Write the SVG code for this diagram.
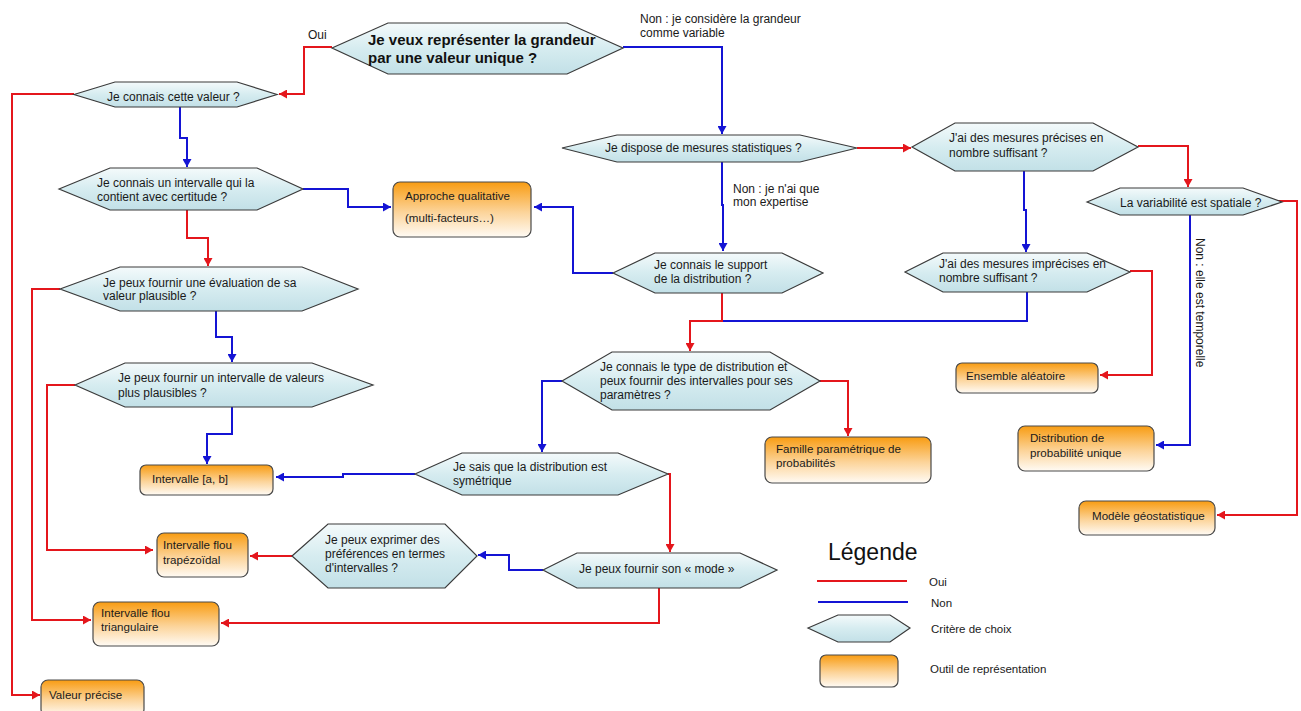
<svg xmlns="http://www.w3.org/2000/svg" width="1301" height="711" viewBox="0 0 1301 711">
<defs>
<linearGradient id="gHex" x1="0" y1="0" x2="0" y2="1">
<stop offset="0" stop-color="#f4fafb"/>
<stop offset="0.5" stop-color="#d6ecf0"/>
<stop offset="1" stop-color="#c2e0e7"/>
</linearGradient>
<linearGradient id="gBox" x1="0" y1="0" x2="0" y2="1">
<stop offset="0" stop-color="#f89c12"/>
<stop offset="0.55" stop-color="#fcd49a"/>
<stop offset="1" stop-color="#fffbf5"/>
</linearGradient>
<marker id="aR" markerWidth="9" markerHeight="9" refX="8" refY="4.5" orient="auto" markerUnits="userSpaceOnUse"><path d="M0,0 L8,4.5 L0,9 z" fill="#e4161c"/></marker>
<marker id="aB" markerWidth="9" markerHeight="9" refX="8" refY="4.5" orient="auto" markerUnits="userSpaceOnUse"><path d="M0,0 L8,4.5 L0,9 z" fill="#1414d4"/></marker>
<style>
.hex{fill:url(#gHex);stroke:#3a3a3a;stroke-width:1.2}
.box{fill:url(#gBox);stroke:#4a4a4a;stroke-width:1.2}
.t{font-family:"Liberation Sans",Arial,sans-serif;font-size:12px;fill:#1a1a1a}
.tb{font-family:"Liberation Sans",Arial,sans-serif;font-size:11.6px;fill:#1a1a1a}
.tl{font-family:"Liberation Sans",Arial,sans-serif;font-size:11.5px;fill:#1a1a1a}
.title{font-family:"Liberation Sans",Arial,sans-serif;font-size:15px;font-weight:bold;fill:#111}
.r{fill:none;stroke:#e4161c;stroke-width:2;marker-end:url(#aR)}
.b{fill:none;stroke:#1414d4;stroke-width:2;marker-end:url(#aB)}
.bn{fill:none;stroke:#1414d4;stroke-width:2}
</style>
</defs>
<rect width="1301" height="711" fill="#ffffff"/>

<g id="connectors">
<polyline class="bn" points="1027,292 1027,321 692,321"/>
<polyline class="r" points="332,47 304,47 304,94 279,94"/>
<polyline class="r" points="74,94 12,94 12,695 40,695"/>
<polyline class="r" points="187,210 187,238 208,238 208,266"/>
<polyline class="r" points="60,289 32,289 32,620 91,620"/>
<polyline class="r" points="75,385 47,385 47,550 153,550"/>
<polyline class="r" points="722,293 722,321 690,321 690,351"/>
<polyline class="r" points="820,381 848,381 848,436"/>
<polyline class="r" points="668,474 670,474 670,552"/>
<polyline class="r" points="659,588 659,623 221,623"/>
<polyline class="r" points="292,556 250,556"/>
<polyline class="r" points="857,148 911,148"/>
<polyline class="r" points="1138,146 1188,146 1188,187"/>
<polyline class="r" points="1272,201 1297,201 1297,515 1217,515"/>
<polyline class="r" points="1130,271 1152,271 1152,375 1100,375"/>
<polyline class="b" points="623,47 722,47 722,134"/>
<polyline class="b" points="180,107 180,138 187,138 187,167"/>
<polyline class="b" points="303,189 348,189 348,207 391,207"/>
<polyline class="b" points="216,311 216,337 232,337 232,362"/>
<polyline class="b" points="232,407 232,434 207,434 207,464"/>
<polyline class="b" points="722,162 722,205 723,205 723,251"/>
<polyline class="b" points="613,273 573,273 573,207 534,207"/>
<polyline class="b" points="562,381 542,381 542,452"/>
<polyline class="b" points="415,474 343,474 343,477 276,477"/>
<polyline class="b" points="543,570 509,570 509,555 478,555"/>
<polyline class="b" points="1024,171 1024,210 1026,210 1026,252"/>
<polyline class="b" points="1190,215 1190,445 1156,445"/>
<text class="t" x="308" y="39">Oui</text>
<text class="t" x="640" y="23">Non : je considère la grandeur</text>
<text class="t" x="640" y="37">comme variable</text>
<text class="t" x="733" y="193">Non : je n'ai que</text>
<text class="t" x="733" y="206">mon expertise</text>
<text class="t" transform="translate(1196,238) rotate(90)">Non : elle est temporelle</text>
</g>

<g id="n-valeur-unique">
<polygon class="hex" points="332,48 388,23 567,23 623,48 567,74 388,74"/>
<text class="title" x="368" y="45">Je veux représenter la grandeur</text>
<text class="title" x="368" y="63">par une valeur unique ?</text>
</g>
<g id="n-connais-valeur">
<polygon class="hex" points="74,94.5 115,82 237,82 277,94.5 237,107 115,107"/>
<text class="t" x="107" y="101">Je connais cette valeur ?</text>
</g>
<g id="n-intervalle-certitude">
<polygon class="hex" points="59,189 110,168 257,168 303,189 257,210 110,210"/>
<text class="t" x="97" y="187">Je connais un intervalle qui la</text>
<text class="t" x="97" y="201">contient avec certitude ?</text>
</g>
<g id="n-evaluation">
<polygon class="hex" points="60,289 120,267 302,267 358,289 302,311 120,311"/>
<text class="t" x="103" y="287">Je peux fournir une évaluation de sa</text>
<text class="t" x="103" y="300">valeur plausible ?</text>
</g>
<g id="n-intervalle-plausible">
<polygon class="hex" points="75,385 125,363 312,363 373,385 312,407 125,407"/>
<text class="t" x="118" y="382">Je peux fournir un intervalle de valeurs</text>
<text class="t" x="118" y="397">plus plausibles ?</text>
</g>
<g id="n-mesures-stat">
<polygon class="hex" points="562,148 617,135 800,135 857,148 800,162 617,162"/>
<text class="t" x="605" y="152">Je dispose de mesures statistiques ?</text>
</g>
<g id="n-support">
<polygon class="hex" points="613,273 655,253 782,253 823,273 782,293 655,293"/>
<text class="t" x="654" y="269">Je connais le support</text>
<text class="t" x="654" y="283">de la distribution ?</text>
</g>
<g id="n-type-distribution">
<polygon class="hex" points="562,381 612,352 770,352 820,381 770,410 612,410"/>
<text class="t" x="600" y="371">Je connais le type de distribution et</text>
<text class="t" x="600" y="385">peux fournir des intervalles pour ses</text>
<text class="t" x="600" y="399">paramètres ?</text>
</g>
<g id="n-symetrique">
<polygon class="hex" points="415,474 462,453 618,453 668,474 618,495 462,495"/>
<text class="t" x="453" y="471">Je sais que la distribution est</text>
<text class="t" x="453" y="485">symétrique</text>
</g>
<g id="n-mode">
<polygon class="hex" points="543,570 577,553 740,553 777,570 740,588 577,588"/>
<text class="t" x="579" y="573">Je peux fournir son « mode »</text>
</g>
<g id="n-preferences">
<polygon class="hex" points="292,556 328,524 445,524 477,556 445,588 328,588"/>
<text class="t" x="325" y="544">Je peux exprimer des</text>
<text class="t" x="325" y="558">préférences en termes</text>
<text class="t" x="325" y="572">d'intervalles ?</text>
</g>
<g id="n-mesures-precises">
<polygon class="hex" points="912,147 955,123 1093,123 1138,147 1093,171 955,171"/>
<text class="t" x="949" y="142">J'ai des mesures précises en</text>
<text class="t" x="949" y="157">nombre suffisant ?</text>
</g>
<g id="n-spatiale">
<polygon class="hex" points="1087,202 1120,188 1243,188 1282,202 1243,215 1120,215"/>
<text class="t" x="1120" y="207">La variabilité est spatiale ?</text>
</g>
<g id="n-mesures-imprecises">
<polygon class="hex" points="905,272 943,253 1087,253 1130,272 1087,292 943,292"/>
<text class="t" x="939" y="268">J'ai des mesures imprécises en</text>
<text class="t" x="939" y="282">nombre suffisant ?</text>
</g>

<g id="o-approche">
<rect class="box" x="393" y="182" width="138" height="55" rx="7"/>
<text class="tb" x="405" y="200">Approche qualitative</text>
<text class="tb" x="405" y="222">(multi-facteurs…)</text>
</g>
<g id="o-intervalle-ab">
<rect class="box" x="140" y="465" width="133" height="30" rx="6"/>
<text class="tb" x="152" y="483">Intervalle [a, b]</text>
</g>
<g id="o-trapezoidal">
<rect class="box" x="157" y="533" width="91" height="44" rx="7"/>
<text class="tb" x="163" y="549">Intervalle flou</text>
<text class="tb" x="163" y="564">trapézoïdal</text>
</g>
<g id="o-triangulaire">
<rect class="box" x="93" y="602" width="126" height="44" rx="7"/>
<text class="tb" x="101" y="617">Intervalle flou</text>
<text class="tb" x="101" y="631">triangulaire</text>
</g>
<g id="o-valeur-precise">
<rect class="box" x="41" y="680" width="103" height="36" rx="7"/>
<text class="tb" x="49" y="699">Valeur précise</text>
</g>
<g id="o-famille">
<rect class="box" x="765" y="437" width="166" height="46" rx="7"/>
<text class="tb" x="776" y="453">Famille paramétrique de</text>
<text class="tb" x="776" y="467">probabilités</text>
</g>
<g id="o-ensemble">
<rect class="box" x="956" y="363" width="142" height="30" rx="6"/>
<text class="tb" x="966" y="380">Ensemble aléatoire</text>
</g>
<g id="o-distribution-unique">
<rect class="box" x="1018" y="426" width="136" height="45" rx="7"/>
<text class="tb" x="1030" y="442">Distribution de</text>
<text class="tb" x="1030" y="457">probabilité unique</text>
</g>
<g id="o-geostat">
<rect class="box" x="1079" y="501" width="136" height="34" rx="7"/>
<text class="tb" x="1092" y="520">Modèle géostatistique</text>
</g>

<g id="legend">
<text x="828" y="560" style="font-family:'Liberation Sans',Arial,sans-serif;font-size:23px;fill:#111">Légende</text>
<line x1="817" y1="581" x2="907" y2="581" stroke="#e4161c" stroke-width="2"/>
<text class="tl" x="929" y="586">Oui</text>
<line x1="818" y1="602" x2="908" y2="602" stroke="#1414d4" stroke-width="2"/>
<text class="tl" x="931" y="607">Non</text>
<polygon class="hex" points="808,628 838,615 890,615 910,628 890,642 838,642"/>
<text class="tl" x="931" y="633">Critère de choix</text>
<rect class="box" x="820" y="655" width="78" height="32" rx="6"/>
<text class="tl" x="930" y="673">Outil de représentation</text>
</g>
</svg>
